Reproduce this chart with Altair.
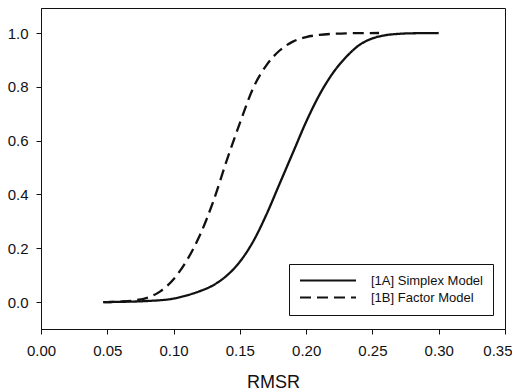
import altair as alt
import pandas as pd

rmsr_simplex = [0.047, 0.06, 0.08, 0.10, 0.11, 0.12, 0.13, 0.14, 0.15, 0.16, 0.17, 0.18,
                0.19, 0.20, 0.21, 0.22, 0.23, 0.24, 0.25, 0.26, 0.27, 0.28, 0.30]
cdf_simplex = [0.0, 0.001, 0.004, 0.013, 0.025, 0.041, 0.063, 0.098, 0.15, 0.225, 0.325, 0.44,
               0.555, 0.67, 0.77, 0.85, 0.91, 0.955, 0.98, 0.992, 0.997, 0.999, 1.0]

rmsr_factor = [0.047, 0.06, 0.07, 0.08, 0.09, 0.10, 0.11, 0.12, 0.13, 0.14, 0.15, 0.16,
               0.17, 0.18, 0.19, 0.20, 0.21, 0.22, 0.23, 0.255]
cdf_factor = [0.0, 0.002, 0.006, 0.016, 0.04, 0.085, 0.155, 0.25, 0.375, 0.525, 0.665, 0.795,
              0.88, 0.935, 0.968, 0.985, 0.993, 0.997, 0.999, 1.0]

series_names = ["[1A] Simplex Model", "[1B] Factor Model"]
x_ticks = [0.0, 0.05, 0.10, 0.15, 0.20, 0.25, 0.30, 0.35]
y_ticks = [0.0, 0.2, 0.4, 0.6, 0.8, 1.0]

df = pd.concat([
    pd.DataFrame({"RMSR": rmsr_simplex, "CDF": cdf_simplex, "Model": series_names[0]}),
    pd.DataFrame({"RMSR": rmsr_factor, "CDF": cdf_factor, "Model": series_names[1]}),
])

FONT = "Liberation Sans"

chart = alt.Chart(df).mark_line(color="#111111", strokeWidth=2.3, interpolate="monotone").encode(
    x=alt.X("RMSR:Q", title="RMSR",
            scale=alt.Scale(domain=[0, 0.35], nice=False, zero=False),
            axis=alt.Axis(values=x_ticks, format=".2f", grid=False, tickSize=5,
                          labelFlush=False, labelOverlap=False,
                          labelAlign=alt.condition("datum.value >= 0.349", alt.value("right"), alt.value("center")),
                          labelOffset=alt.condition("datum.value >= 0.349", alt.value(7), alt.value(0)),
                          labelPadding=9, labelFontSize=15, titleFontSize=18,
                          titleFontWeight="normal", titleY=58, titleBaseline="alphabetic")),
    y=alt.Y("CDF:Q", title=None,
            scale=alt.Scale(domain=[-0.1, 1.093], nice=False, zero=False),
            axis=alt.Axis(values=y_ticks, format=".1f", grid=False, tickSize=5,
                          labelFlush=False, labelOverlap=False,
                          labelPadding=8, labelFontSize=15)),
    strokeDash=alt.StrokeDash("Model:N",
                              scale=alt.Scale(domain=series_names, range=[[1, 0], [11, 6]]),
                              legend=alt.Legend(title=None, orient="none", legendX=248, legendY=256,
                                                symbolType="stroke", symbolSize=3136,
                                                clipHeight=13,
                                                symbolStrokeWidth=2, symbolStrokeColor="#111111",
                                                labelFontSize=13, labelFont=FONT, labelColor="#111111",
                                                labelOffset=14, padding=10, rowPadding=3,
                                                strokeColor="#111111", fillColor="white",
                                                labelLimit=300)),
).properties(
    width=464, height=321,
    autosize=alt.AutoSizeParams(type="none"),
    padding={"left": 33, "top": 0, "right": 7, "bottom": 72},
).configure_view(
    stroke="#111111", strokeWidth=1
).configure_axis(
    labelFont=FONT, titleFont=FONT, labelColor="#111111", titleColor="#111111",
    domainColor="#111111", tickColor="#111111", domainWidth=1, tickWidth=1
)

chart.save("out.html", embed_options={"renderer": "svg", "actions": False})
